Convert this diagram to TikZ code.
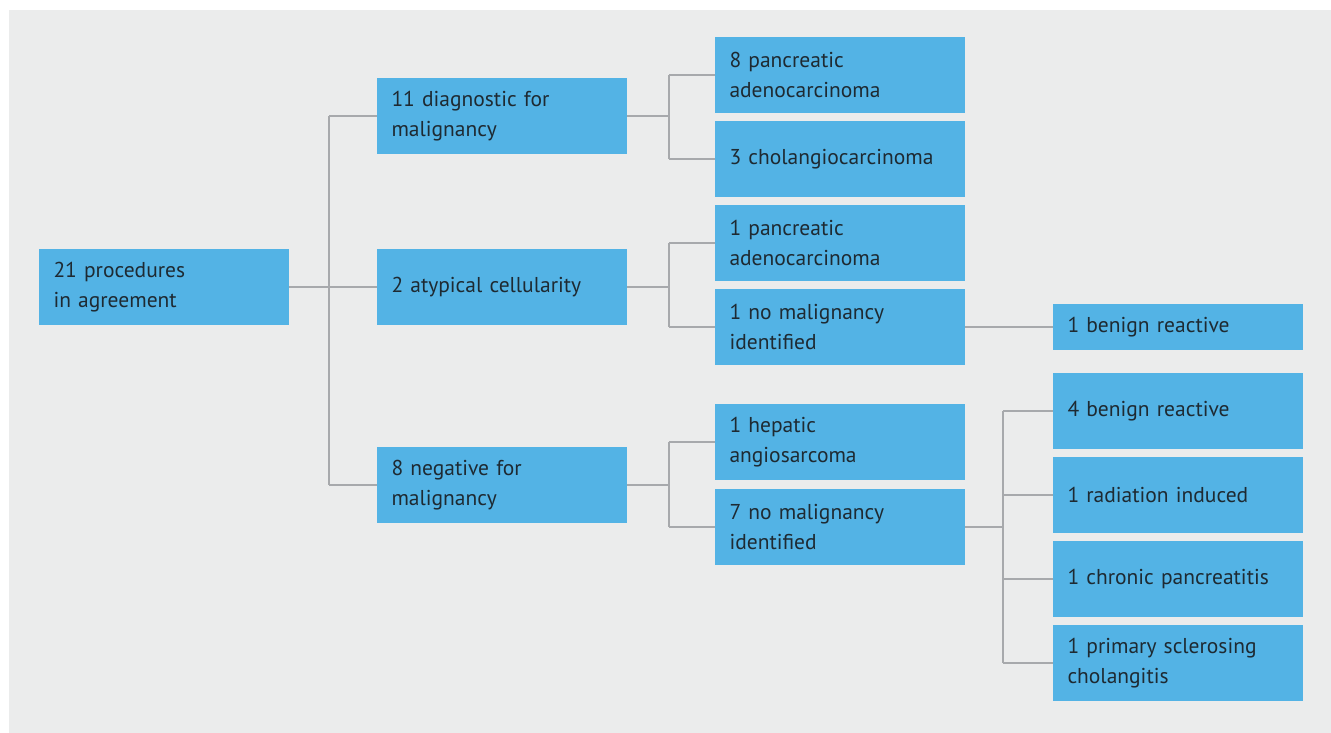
\documentclass[tikz,border=0pt]{standalone}
\usepackage{fontspec}
\setmainfont{PT Sans}
\definecolor{boxblue}{HTML}{53B3E5}
\definecolor{panel}{HTML}{EBECEC}
\definecolor{linegray}{HTML}{A7A9AC}
\definecolor{txt}{HTML}{1E2A32}
\begin{document}
\begin{tikzpicture}[x=1pt,y=-1pt,
  box/.style={fill=boxblue,text=txt,draw=none,inner xsep=14.5pt,inner ysep=0pt,
    text width=221pt,minimum height=76pt,align=left,
    font=\fontsize{21.5}{30}\selectfont},
  sbox/.style={box,minimum height=46pt},
  conn/.style={draw=linegray,line width=2.5pt}]
\useasboundingbox (0,0) rectangle (1331,733);
\fill[panel] (9,10) rectangle (1331,733);
% nodes
\node[box] (root) at (164,287) {21 procedures\\in agreement};
\node[box] (d11) at (502,116) {11 diagnostic for\\malignancy};
\node[box] (a2) at (502,287) {2 atypical cellularity};
\node[box] (n8) at (502,485) {8 negative for\\malignancy};
\node[box] (p8) at (840,75) {8 pancreatic\\adenocarcinoma};
\node[box] (c3) at (840,159) {3 cholangiocarcinoma};
\node[box] (p1) at (840,243) {1 pancreatic\\adenocarcinoma};
\node[box] (nm1) at (840,327) {1 no malignancy\\identified};
\node[box] (h1) at (840,442) {1 hepatic\\angiosarcoma};
\node[box] (nm7) at (840,527) {7 no malignancy\\identified};
\node[sbox] (br1) at (1178,327) {1 benign reactive};
\node[box] (br4) at (1178,411) {4 benign reactive};
\node[box] (ri1) at (1178,495) {1 radiation induced};
\node[box] (cp1) at (1178,579) {1 chronic pancreatitis};
\node[box] (ps1) at (1178,663) {1 primary sclerosing\\cholangitis};
% connectors
\coordinate (j0) at (329,287);
\draw[conn] (root.east) -- (j0);
\draw[conn] (j0 |- d11.west) -- (j0 |- n8.west);
\draw[conn] (j0 |- d11.west) -- (d11.west);
\draw[conn] (j0) -- (a2.west);
\draw[conn] (j0 |- n8.west) -- (n8.west);
% level 2
\coordinate (j1) at (669,116);
\draw[conn] (d11.east) -- (j1);
\draw[conn] (j1 |- p8.west) -- (j1 |- c3.west);
\draw[conn] (j1 |- p8.west) -- (p8.west);
\draw[conn] (j1 |- c3.west) -- (c3.west);
\coordinate (j2) at (669,287);
\draw[conn] (a2.east) -- (j2);
\draw[conn] (j2 |- p1.west) -- (j2 |- nm1.west);
\draw[conn] (j2 |- p1.west) -- (p1.west);
\draw[conn] (j2 |- nm1.west) -- (nm1.west);
\coordinate (j3) at (669,485);
\draw[conn] (n8.east) -- (j3);
\draw[conn] (j3 |- h1.west) -- (j3 |- nm7.west);
\draw[conn] (j3 |- h1.west) -- (h1.west);
\draw[conn] (j3 |- nm7.west) -- (nm7.west);
% level 3
\draw[conn] (nm1.east) -- (br1.west);
\coordinate (j4) at (1003,527);
\draw[conn] (nm7.east) -- (j4);
\draw[conn] (j4 |- br4.west) -- (j4 |- ps1.west);
\draw[conn] (j4 |- br4.west) -- (br4.west);
\draw[conn] (j4 |- ri1.west) -- (ri1.west);
\draw[conn] (j4 |- cp1.west) -- (cp1.west);
\draw[conn] (j4 |- ps1.west) -- (ps1.west);
\end{tikzpicture}
\end{document}
